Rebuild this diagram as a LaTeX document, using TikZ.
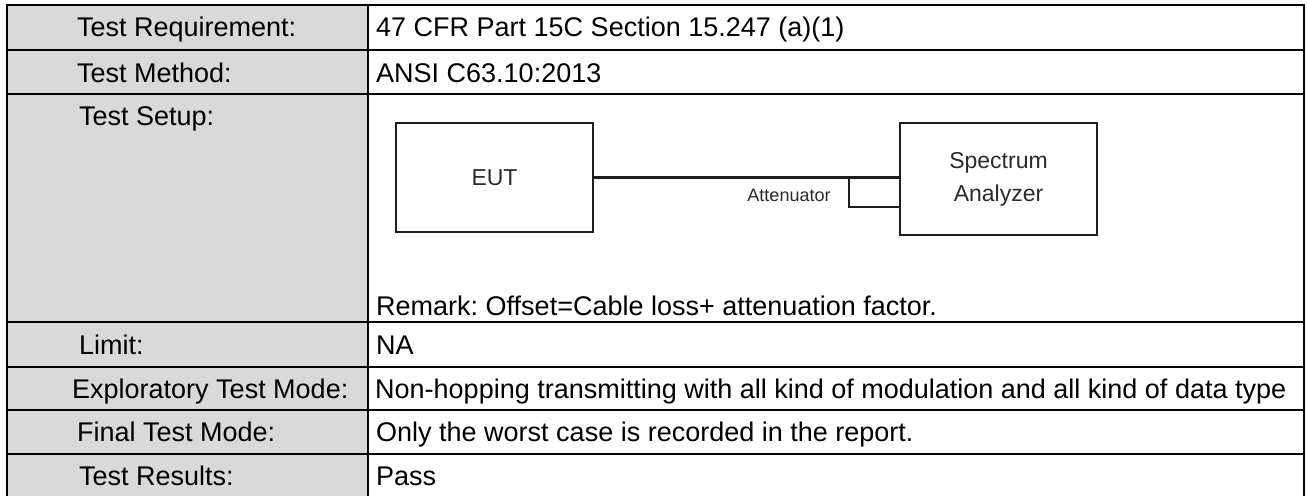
\documentclass[tikz,border=0pt]{standalone}
\usepackage{fontspec}
\setmainfont{Liberation Sans}
\definecolor{cellgray}{HTML}{D9D9D9}
\definecolor{ink}{HTML}{1E1E1E}
\definecolor{dtext}{HTML}{2A2A2A}
\frenchspacing
\begin{document}
\begin{tikzpicture}[x=1pt,y=-1pt,
  gridline/.style={line width=1.7pt, draw=black},
  lbl/.style={anchor=base west, inner sep=0pt, font=\fontsize{27}{32}\selectfont},
  val/.style={anchor=base west, inner sep=0pt, font=\fontsize{27}{32}\selectfont},
  dbox/.style={draw=ink, line width=2.6pt, inner sep=0pt, text=dtext,
    font=\fontsize{23}{33}\selectfont, align=center},
  dlabel/.style={inner sep=0pt, anchor=base, text=dtext, font=\fontsize{18}{22}\selectfont}
]
\useasboundingbox (0,0) rectangle (1308,495);
% table background
\fill[cellgray] (7,5) rectangle (368,500);
% grid
\draw[gridline] (7,500) -- (7,5) -- (1304,5) -- (1304,500);
\draw[gridline] (368,5) -- (368,500);
\foreach \yy in {50,94,322,367,410,454}
  \draw[gridline] (7,\yy) -- (1304,\yy);

% left column labels
\node[lbl] (l1) at (77,37) {Test Requirement:};
\node[lbl] (l2) at (77,82) {Test Method:};
\node[lbl] (l3) at (79,125) {Test Setup:};
\node[lbl] (l4) at (79,354) {Limit:};
\node[lbl] (l5) at (72,398) {Exploratory Test Mode:};
\node[lbl] (l6) at (77,441) {Final Test Mode:};
\node[lbl] (l7) at (79,485) {Test Results:};

% right column values
\node[val] (v1) at (376,37) {47 CFR Part 15C Section 15.247 (a)(1)};
\node[val] (v2) at (376,82) {ANSI C63.10:2013};
\node[val] (v3) at (376,315) {Remark: Offset=Cable loss+ attenuation factor.};
\node[val] (v4) at (376,354) {NA};
\node[val] (v5) at (375,398) {Non-hopping transmitting with all kind of modulation and all kind of data type};
\node[val] (v6) at (376,441) {Only the worst case is recorded in the report.};
\node[val] (v7) at (376,485) {Pass};

% setup diagram
\node[dbox, minimum width=197pt, minimum height=109pt] (eut) at (494.5,177.5) {EUT};
\node[dbox, minimum width=197pt, minimum height=112pt] (sa) at (998.5,179) {Spectrum\\Analyzer};
\node[draw=ink, line width=2.6pt, inner sep=0pt, minimum width=51pt, minimum height=29pt] (att) at (874.5,192.5) {};
\node[dlabel] (attl) at (789,201) {Attenuator};
\draw[draw=ink, line width=2.6pt] (eut.east) -- (sa.west |- eut.east);
\end{tikzpicture}
\end{document}
